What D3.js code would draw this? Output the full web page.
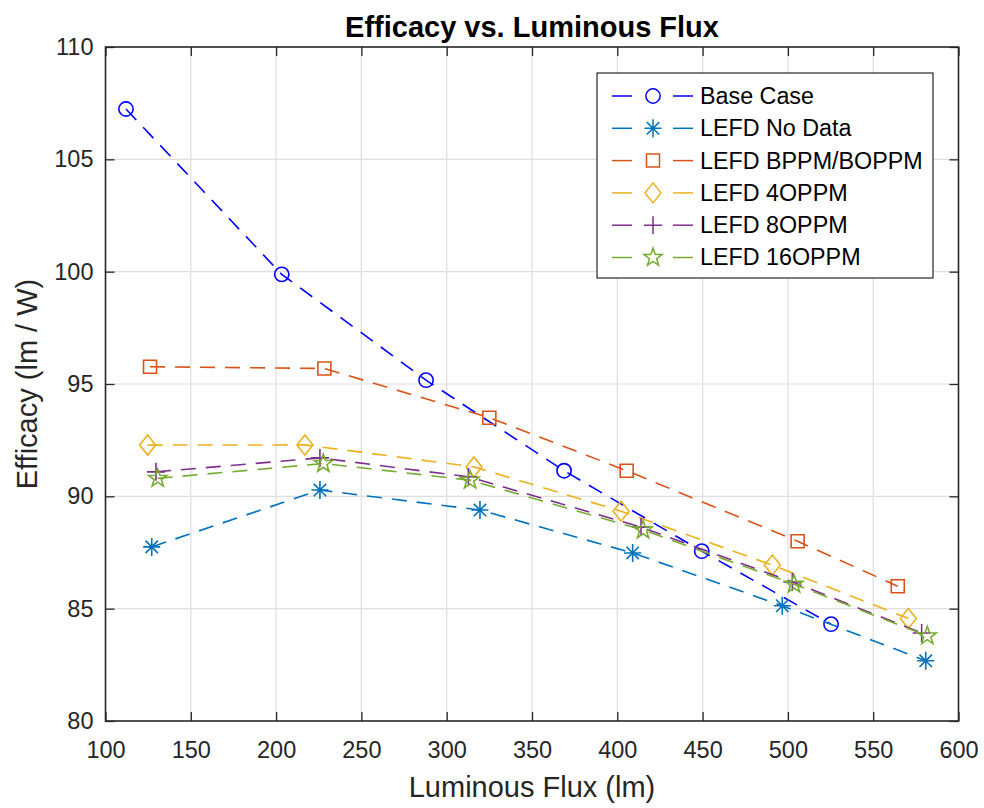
<!DOCTYPE html>
<html>
<head>
<meta charset="utf-8">
<script src="https://cdn.jsdelivr.net/npm/d3@7"></script>
<style>
  body { margin: 0; background: #fff; }
  svg { font-family: "Liberation Sans", Arial, sans-serif; }
</style>
</head>
<body>
<div id="chart"></div>
<script>
// data
const seriesNames = ["Base Case", "LEFD No Data", "LEFD BPPM/BOPPM", "LEFD 4OPPM", "LEFD 8OPPM", "LEFD 16OPPM"]
const seriesColors = ["#0000ff", "#0072bd", "#d95319", "#edb120", "#7e2f8e", "#77ac30"]
const seriesMarkers = ["circle", "asterisk", "square", "diamond", "plus", "star"]

const baseFlux = [112.0, 203.3, 287.9, 368.8, 449.5, 525.3]
const baseEff = [107.24, 99.88, 95.17, 91.14, 87.56, 84.31]
const noDataFlux = [127.1, 225.7, 319.5, 409.0, 496.7, 580.8]
const noDataEff = [87.75, 90.28, 89.39, 87.48, 85.13, 82.68]
const bppmFlux = [126.1, 228.3, 325.0, 405.5, 505.7, 564.4]
const bppmEff = [95.77, 95.69, 93.50, 91.14, 88.00, 86.00]
const oppm4Flux = [124.7, 216.9, 316.0, 402.2, 490.9, 570.6]
const oppm4Eff = [92.28, 92.29, 91.31, 89.34, 86.94, 84.56]
const oppm8Flux = [129.6, 225.7, 312.7, 413.9, 502.6, 578.4]
const oppm8Eff = [91.09, 91.71, 90.87, 88.63, 86.19, 83.92]
const oppm16Flux = [130.6, 227.7, 313.7, 415.1, 503.6, 581.7]
const oppm16Eff = [90.80, 91.46, 90.72, 88.50, 86.09, 83.79]

const xTicks = [100, 150, 200, 250, 300, 350, 400, 450, 500, 550, 600]
const yTicks = [80, 85, 90, 95, 100, 105, 110]

const fluxes = [baseFlux, noDataFlux, bppmFlux, oppm4Flux, oppm8Flux, oppm16Flux]
const effs = [baseEff, noDataEff, bppmEff, oppm4Eff, oppm8Eff, oppm16Eff]

const W = 984, H = 808
const padLeft = 105.5, padRight = 958.5, padTop = 47, padBottom = 721

const svg = d3.select("#chart").append("svg")
  .attr("width", W)
  .attr("height", H)

const xScale = d3.scaleLinear([100, 600], [padLeft, padRight])
const yScale = d3.scaleLinear([80, 110], [padBottom, padTop])

// grid
svg.append("g")
   .selectAll("line")
   .data(xTicks.slice(1, -1))
   .enter()
   .append("line")
   .attr("x1", d => xScale(d)).attr("x2", d => xScale(d))
   .attr("y1", padTop).attr("y2", padBottom)
   .attr("stroke", "#dedede").attr("stroke-width", 1.2)

svg.append("g")
   .selectAll("line")
   .data(yTicks.slice(1, -1))
   .enter()
   .append("line")
   .attr("x1", padLeft).attr("x2", padRight)
   .attr("y1", d => yScale(d)).attr("y2", d => yScale(d))
   .attr("stroke", "#dedede").attr("stroke-width", 1.2)

// axes (MATLAB style ticks inside, box on)
const axisColor = "#262626"
function styleAxis(g) {
  g.select(".domain").remove()
  g.selectAll(".tick line").attr("stroke", axisColor).attr("stroke-width", 1.3)
  g.selectAll(".tick text").attr("fill", axisColor)
     .style("font-size", "23.5px")
     .style("font-family", "'Liberation Sans', Arial, sans-serif")
}

svg.append("g")
   .attr("transform", `translate(0, ${padBottom})`)
   .call(d3.axisBottom(xScale).tickValues(xTicks).tickSizeInner(-9).tickSizeOuter(0).tickPadding(20))
   .call(styleAxis)

svg.append("g")
   .attr("transform", `translate(0, ${padTop})`)
   .call(d3.axisTop(xScale).tickValues(xTicks).tickSizeInner(-9).tickSizeOuter(0).tickFormat(""))
   .call(styleAxis)

svg.append("g")
   .attr("transform", `translate(${padLeft}, 0)`)
   .call(d3.axisLeft(yScale).tickValues(yTicks).tickSizeInner(-9).tickSizeOuter(0).tickPadding(12))
   .call(styleAxis)

svg.append("g")
   .attr("transform", `translate(${padRight}, 0)`)
   .call(d3.axisRight(yScale).tickValues(yTicks).tickSizeInner(-9).tickSizeOuter(0).tickFormat(""))
   .call(styleAxis)

svg.append("rect")
   .attr("x", padLeft).attr("y", padTop)
   .attr("width", padRight - padLeft).attr("height", padBottom - padTop)
   .attr("fill", "none")
   .attr("stroke", axisColor)
   .attr("stroke-width", 1.6)

// markers
function markerPath(type) {
  switch (type) {
    case "circle": return d3.symbol(d3.symbolCircle, 160)()
    case "square": return "M-6.5,-6.5H6.5V6.5H-6.5Z"
    case "diamond": return "M0,-10L8,0L0,10L-8,0Z"
    case "plus": return "M0,-9V9M-9,0H9"
    case "asterisk": return "M0,-9V9M-8.5,0H8.5M-6.2,-6.2L6.2,6.2M-6.2,6.2L6.2,-6.2"
    case "star": {
      let pts = []
      for (let i = 0; i < 10; i++) {
        let r = i % 2 === 0 ? 9.5 : 3.8
        let a = -Math.PI / 2 + i * Math.PI / 5
        pts.push([r * Math.cos(a), r * Math.sin(a)])
      }
      return "M" + pts.map(p => p.join(",")).join("L") + "Z"
    }
  }
}

const lineMaker = d3.line()
  .x(d => xScale(d[0]))
  .y(d => yScale(d[1]))

const plot = svg.append("g")

for (let s = 0; s < seriesNames.length; s++) {
  const pts = fluxes[s].map((f, i) => [f, effs[s][i]])

  plot.append("path")
      .datum(pts)
      .attr("fill", "none")
      .attr("stroke", seriesColors[s])
      .attr("stroke-width", 1.6)
      .attr("stroke-dasharray", "15,10")
      .attr("d", lineMaker)

  plot.selectAll(null)
      .data(pts)
      .enter()
      .append("path")
      .attr("transform", d => `translate(${xScale(d[0])}, ${yScale(d[1])})`)
      .attr("d", markerPath(seriesMarkers[s]))
      .attr("fill", "none")
      .attr("stroke", seriesColors[s])
      .attr("stroke-width", 1.6)
}

// legend
const legend = svg.append("g").attr("transform", "translate(597, 73)")
legend.append("rect")
      .attr("width", 336).attr("height", 205)
      .attr("fill", "#fff")
      .attr("stroke", "#262626").attr("stroke-width", 1.2)

seriesNames.forEach((name, i) => {
  const y = 23 + i * 32.3
  const row = legend.append("g").attr("transform", `translate(0, ${y})`)
  row.append("line").attr("x1", 15).attr("x2", 35).attr("y1", 0).attr("y2", 0)
     .attr("stroke", seriesColors[i]).attr("stroke-width", 1.5)
  row.append("line").attr("x1", 76).attr("x2", 96).attr("y1", 0).attr("y2", 0)
     .attr("stroke", seriesColors[i]).attr("stroke-width", 1.5)
  row.append("path")
     .attr("transform", "translate(56, 0)")
     .attr("d", markerPath(seriesMarkers[i]))
     .attr("fill", "none")
     .attr("stroke", seriesColors[i]).attr("stroke-width", 1.5)
  row.append("text")
     .attr("x", 103).attr("y", 0).attr("dy", "0.34em")
     .style("font-size", "23.3px")
     .attr("fill", "#000")
     .text(name)
})

// titles
svg.append("text")
   .attr("x", (padLeft + padRight) / 2).attr("y", 36.5)
   .attr("text-anchor", "middle")
   .style("font-size", "29px").style("font-weight", "bold")
   .attr("fill", "#000")
   .text("Efficacy vs. Luminous Flux")

svg.append("text")
   .attr("x", (padLeft + padRight) / 2).attr("y", 796.5)
   .attr("text-anchor", "middle")
   .style("font-size", "29px")
   .attr("fill", "#262626")
   .text("Luminous Flux (lm)")

svg.append("text")
   .attr("transform", `translate(36.5, ${(padTop + padBottom) / 2}) rotate(-90)`)
   .attr("text-anchor", "middle")
   .style("font-size", "29px")
   .attr("fill", "#262626")
   .text("Efficacy (lm / W)")
</script>
</body>
</html>
